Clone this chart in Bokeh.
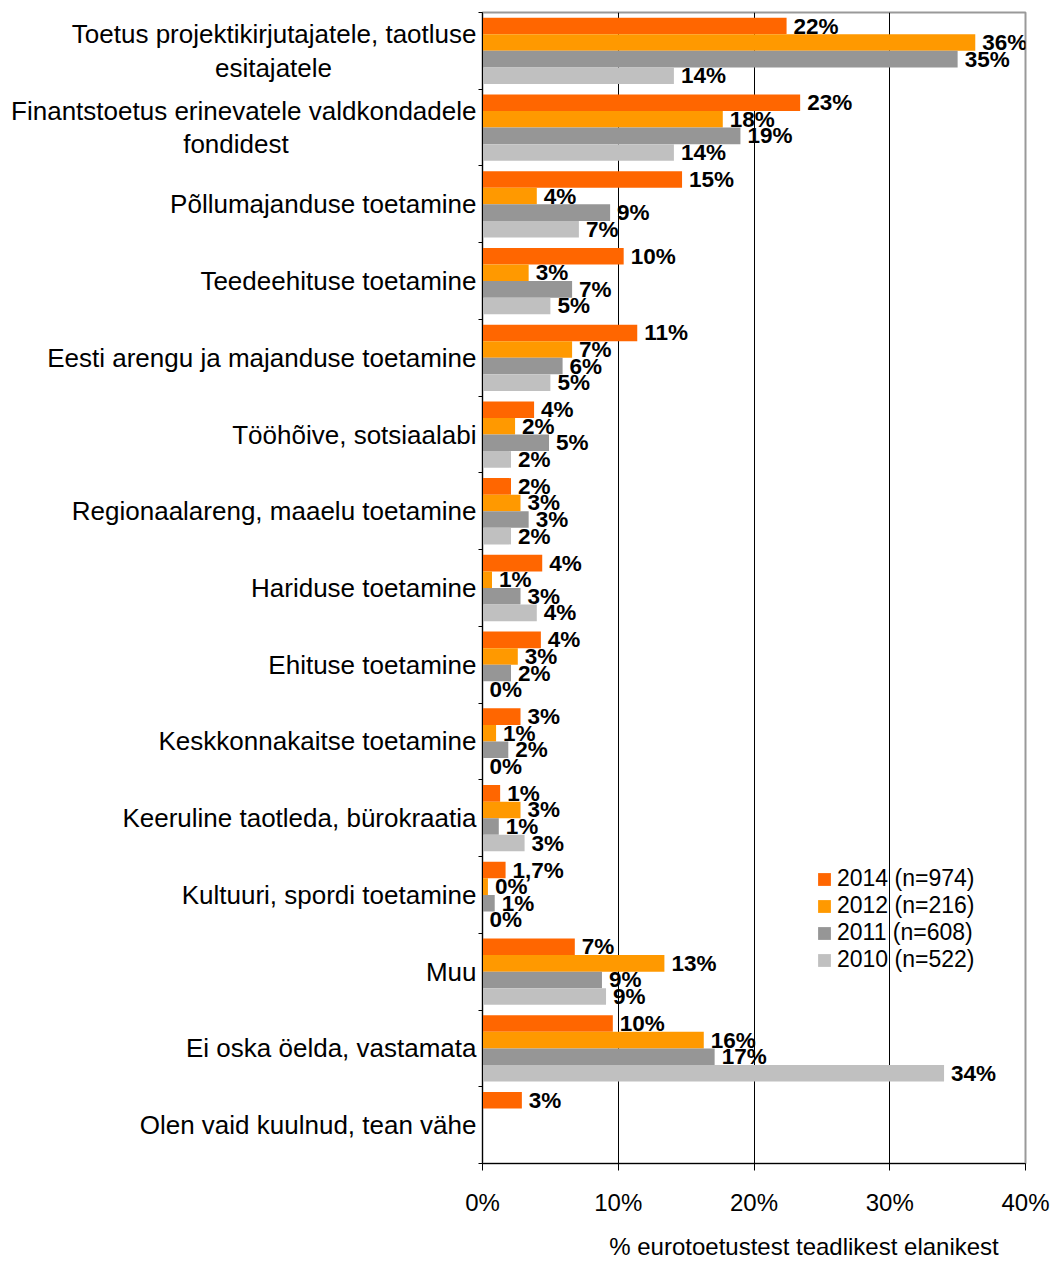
from bokeh.plotting import figure
from bokeh.models import (ColumnDataSource, LabelSet, Range1d, FixedTicker,
                          Legend, LegendItem, LinearAxis)
from bokeh.core.properties import value
from bokeh.embed import file_html
from bokeh.resources import INLINE

categories = [
    "Toetus projektikirjutajatele, taotluse\nesitajatele",
    "Finantstoetus erinevatele valdkondadele\nfondidest",
    "Põllumajanduse toetamine",
    "Teedeehituse toetamine",
    "Eesti arengu ja majanduse toetamine",
    "Tööhõive, sotsiaalabi",
    "Regionaalareng, maaelu toetamine",
    "Hariduse toetamine",
    "Ehituse toetamine",
    "Keskkonnakaitse toetamine",
    "Keeruline taotleda, bürokraatia",
    "Kultuuri, spordi toetamine",
    "Muu",
    "Ei oska öelda, vastamata",
    "Olen vaid kuulnud, tean vähe",
]

series_names = ["2014 (n=974)", "2012 (n=216)", "2011 (n=608)", "2010 (n=522)"]
series_colors = ["#FF6600", "#FF9900", "#969696", "#C0C0C0"]

v2014 = [22.4, 23.4, 14.7, 10.4, 11.4, 3.8, 2.1, 4.4, 4.3, 2.8, 1.3, 1.7, 6.8, 9.6, 2.9]
v2012 = [36.3, 17.7, 4.0, 3.4, 6.6, 2.4, 2.8, 0.7, 2.6, 1.0, 2.8, 0.4, 13.4, 16.3, None]
v2011 = [35.0, 19.0, 9.4, 6.6, 5.9, 4.9, 3.4, 2.8, 2.1, 1.9, 1.2, 0.9, 8.8, 17.1, None]
v2010 = [14.1, 14.1, 7.1, 5.0, 5.0, 2.1, 2.1, 4.0, 0.0, 0.0, 3.1, 0.0, 9.1, 34.0, None]

l2014 = ["22%", "23%", "15%", "10%", "11%", "4%", "2%", "4%", "4%", "3%", "1%", "1,7%", "7%", "10%", "3%"]
l2012 = ["36%", "18%", "4%", "3%", "7%", "2%", "3%", "1%", "3%", "1%", "3%", "0%", "13%", "16%", None]
l2011 = ["35%", "19%", "9%", "7%", "6%", "5%", "3%", "3%", "2%", "2%", "1%", "1%", "9%", "17%", None]
l2010 = ["14%", "14%", "7%", "5%", "5%", "2%", "2%", "4%", "0%", "0%", "3%", "0%", "9%", "34%", None]

x_ticks = [0, 10, 20, 30, 40]
x_tick_labels = ["0%", "10%", "20%", "30%", "40%"]
x_axis_title = "% eurotoetustest teadlikest elanikest"

FONT = "Liberation Sans"
NB = "\u00a0"
n = len(categories)


def centered_lines(label, pad):
    # right-aligned axis labels: pad the short second line so it sits centred
    if "\n" not in label:
        return label
    first, second = label.split("\n")
    return first + "\n" + second + NB * pad


cat_pads = {0: 20, 1: 26}

p = figure(width=1050, height=1262, output_backend="svg", toolbar_location=None,
           x_range=Range1d(0, 40), y_range=Range1d(n, 0),
           min_border_left=482, min_border_right=25, min_border_top=12, min_border_bottom=94)
p.background_fill_color = "white"
p.border_fill_color = "white"
p.outline_line_color = "#999999"
p.outline_line_width = 2

# grid
p.xgrid.ticker = FixedTicker(ticks=[10, 20, 30])
p.xgrid.grid_line_color = "black"
p.xgrid.grid_line_width = 1
p.ygrid.grid_line_color = None

# x axis
p.xaxis.ticker = FixedTicker(ticks=x_ticks)
p.xaxis.major_label_overrides = {t: s for t, s in zip(x_ticks, x_tick_labels)}
p.xaxis.major_label_text_font = FONT
p.xaxis.major_label_text_font_size = "24px"
p.xaxis.major_label_text_color = "black"
p.xaxis.major_tick_in = 0
p.xaxis.major_tick_out = 7
p.xaxis.minor_tick_line_color = None
p.xaxis.major_label_standoff = 18
p.xaxis.axis_line_color = "black"
p.xaxis.major_tick_line_color = "black"
p.xaxis.axis_label = NB * 15 + x_axis_title
p.xaxis.axis_label_text_font = FONT
p.xaxis.axis_label_text_font_size = "24px"
p.xaxis.axis_label_text_font_style = "normal"
p.xaxis.axis_label_text_color = "black"
p.xaxis.axis_label_standoff = 14

# y axis: boundary ticks only
p.yaxis.ticker = FixedTicker(ticks=list(range(n + 1)))
p.yaxis.major_label_overrides = {i: "" for i in range(n + 1)}
p.yaxis.major_label_standoff = 0
p.yaxis.major_tick_in = 0
p.yaxis.major_tick_out = 4
p.yaxis.minor_tick_line_color = None
p.yaxis.axis_line_color = "black"
p.yaxis.major_tick_line_color = "black"

# category label axis
cat_axis = LinearAxis(ticker=FixedTicker(ticks=[i + 0.5 for i in range(n)]),
                      major_label_overrides={i + 0.5: centered_lines(c, cat_pads.get(i, 0))
                                             for i, c in enumerate(categories)},
                      axis_line_color=None, major_tick_line_color=None,
                      minor_tick_line_color=None, major_tick_in=0, major_tick_out=0,
                      major_label_standoff=2,
                      major_label_text_font=FONT, major_label_text_font_size="26px",
                      major_label_text_color="black", major_label_text_line_height=1.12)
p.add_layout(cat_axis, "left")

vals = [v2014, v2012, v2011, v2010]
labs = [l2014, l2012, l2011, l2010]
bar_h = 0.216
offsets = [-1.5 * bar_h, -0.5 * bar_h, 0.5 * bar_h, 1.5 * bar_h]

items = []
for k in range(4):
    ys, xs, ts = [], [], []
    for i in range(n):
        if vals[k][i] is None:
            continue
        ys.append(i + 0.5 + offsets[k])
        xs.append(vals[k][i])
        ts.append(labs[k][i])
    src = ColumnDataSource(dict(y=ys, x=xs, t=ts))
    r = p.hbar(y="y", right="x", left=0, height=bar_h, source=src,
               fill_color=series_colors[k], line_color=None)
    items.append(LegendItem(label=series_names[k], renderers=[r]))
    p.add_layout(LabelSet(x="x", y="y", text="t", source=src, x_offset=7,
                          text_baseline="middle", text_align="left",
                          text_font=value(FONT), text_font_style="bold",
                          text_font_size="22.5px", text_color="black"))

legend = Legend(items=items, location=(334, 190), padding=0, margin=0, spacing=0,
                glyph_width=16, glyph_height=16, label_standoff=5,
                label_text_font=FONT, label_text_font_size="23px",
                label_text_color="black",
                label_height=20, border_line_color=None, background_fill_alpha=0)
p.add_layout(legend)

open("out.html", "w").write(file_html(p, INLINE))
